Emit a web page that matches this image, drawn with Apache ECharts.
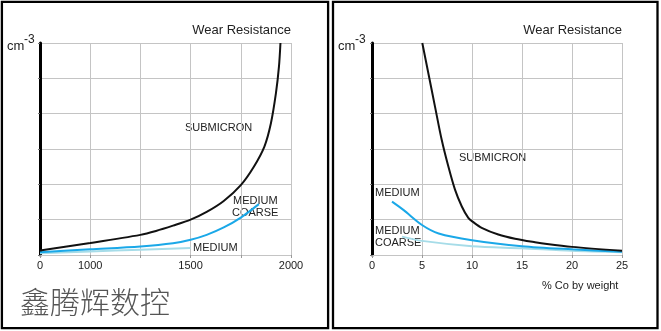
<!DOCTYPE html>
<html><head><meta charset="utf-8">
<script src="https://cdn.jsdelivr.net/npm/echarts@6/dist/echarts.min.js"></script>
<style>html,body{margin:0;padding:0;background:#fff}#c{width:661px;height:331px}</style>
</head><body><div id="c"></div>
<script>
// ---- data ----
// Left panel: x axis is broken (0 | 1000 | 1250 | 1500 | 1750 | 2000), x given in grid-step positions
const leftTickLabels = ['0', '1000', '', '1500', '', '2000'];
const leftSubmicronX = [0, 1, 2, 2.31, 2.65, 3.0, 3.32, 3.66, 4.0, 4.26, 4.47, 4.60, 4.70, 4.76, 4.79];
const leftSubmicronY = [0.13, 0.34, 0.57, 0.68, 0.83, 1.0, 1.22, 1.53, 1.98, 2.5, 3.07, 3.73, 4.58, 5.33, 6.0];
const leftCoarseX = [0, 1, 2, 2.65, 3, 3.32, 3.66, 4.0, 4.36];
const leftCoarseY = [0.08, 0.16, 0.24, 0.33, 0.43, 0.57, 0.78, 1.06, 1.44];
const leftMediumX = [0, 1, 2, 3];
const leftMediumY = [0.05, 0.1, 0.15, 0.2];
// Right panel: % Co by weight
const rightTickLabels = ['0', '5', '10', '15', '20', '25'];
const rightSubmicronX = [5.03, 5.63, 6.3, 6.97, 7.63, 8.3, 8.97, 9.63, 10.13, 10.97, 12.63, 14.3, 16.3, 17.5, 20, 25];
const rightSubmicronY = [6.0, 5.15, 4.2, 3.26, 2.51, 1.85, 1.38, 1.05, 0.93, 0.77, 0.58, 0.46, 0.36, 0.31, 0.23, 0.12];
const rightMediumX = [2, 3.17, 5, 6.67, 10, 15, 20, 25];
const rightMediumY = [1.51, 1.27, 0.85, 0.61, 0.42, 0.25, 0.16, 0.09];
const rightCoarseX = [3, 5, 10, 15, 20, 25];
const rightCoarseY = [0.52, 0.40, 0.25, 0.19, 0.12, 0.08];
const title = 'Wear Resistance';
const xName = '% Co by weight';
const watermark = '鑫腾辉数控';

const zip = (xs, ys) => xs.map((x, i) => [x, ys[i]]);
const FONT = 'Liberation Sans, Arial, sans-serif';
const GRID = '#c4c4c4';
const BLACK = '#111', BLUE = '#1aa8e8', LIGHT = '#a6dce8';

function xAxis(gi, max, interval, labels) {
  return {
    type: 'value', gridIndex: gi, min: 0, max: max, interval: interval,
    axisLine: { show: true, lineStyle: { color: GRID, width: 1 } },
    axisTick: { show: true, length: 3, lineStyle: { color: '#999' } },
    axisLabel: { color: '#222', fontSize: 11, fontFamily: FONT, margin: 5,
      formatter: v => labels[Math.round(v / interval)] ?? '' },
    splitLine: { show: true, lineStyle: { color: GRID, width: 1 } }
  };
}
function yAxis(gi) {
  return {
    type: 'value', gridIndex: gi, min: 0, max: 6, interval: 1,
    axisLine: { show: true, lineStyle: { color: '#000', width: 3 } },
    axisTick: { show: true, length: 2, lineStyle: { color: '#777' } },
    axisLabel: { show: false },
    splitLine: { show: true, lineStyle: { color: GRID, width: 1 } }
  };
}
function line(xi, data, color, w) {
  return { type: 'line', xAxisIndex: xi, yAxisIndex: xi, data: data, showSymbol: false,
    smooth: 0.3, lineStyle: { color: color, width: w }, silent: true, z: 3 };
}
function txt(x, y, s, opts) {
  return { type: 'text', x: x, y: y, style: Object.assign({ text: s, fill: '#222', font: '11px ' + FONT, verticalAlign: 'middle' }, opts || {}) };
}

const chart = echarts.init(document.getElementById('c'));
chart.setOption({
  backgroundColor: '#fff',
  animation: false,
  grid: [
    { left: 40, right: 370, top: 43, bottom: 76 },
    { left: 372, right: 39, top: 43, bottom: 76 }
  ],
  xAxis: [xAxis(0, 5, 1, leftTickLabels), xAxis(1, 25, 5, rightTickLabels)],
  yAxis: [yAxis(0), yAxis(1)],
  series: [
    line(0, zip(leftMediumX, leftMediumY), LIGHT, 2),
    line(0, zip(leftCoarseX, leftCoarseY), BLUE, 2),
    line(0, zip(leftSubmicronX, leftSubmicronY), BLACK, 2),
    line(1, zip(rightCoarseX, rightCoarseY), LIGHT, 2),
    line(1, zip(rightMediumX, rightMediumY), BLUE, 2),
    line(1, zip(rightSubmicronX, rightSubmicronY), BLACK, 2)
  ],
  graphic: [
    { type: 'rect', shape: { x: 1.9, y: 1.9, width: 326.2, height: 326.2 }, style: { fill: 'none', stroke: '#000', lineWidth: 2.3 }, z: 10 },
    { type: 'rect', shape: { x: 333, y: 1.9, width: 324.5, height: 326.2 }, style: { fill: 'none', stroke: '#000', lineWidth: 2.3 }, z: 10 },
    // left panel texts
    txt(291, 30, title, { font: '13px ' + FONT, align: 'right' }),
    txt(7, 46, 'cm', { font: '13px ' + FONT }),
    txt(24, 40, '-3', { font: '12px ' + FONT }),
    txt(185, 128, 'SUBMICRON'),
    txt(233, 201, 'MEDIUM'),
    txt(232, 213, 'COARSE'),
    txt(193, 248, 'MEDIUM'),
    txt(20, 302, watermark, { font: '300 30px "Noto Sans CJK SC", sans-serif', fill: '#555' }),
    // right panel texts
    txt(622, 30, title, { font: '13px ' + FONT, align: 'right' }),
    txt(338, 46, 'cm', { font: '13px ' + FONT }),
    txt(355, 40, '-3', { font: '12px ' + FONT }),
    txt(459, 158, 'SUBMICRON'),
    txt(375, 193, 'MEDIUM'),
    txt(375, 231, 'MEDIUM'),
    txt(375, 243, 'COARSE'),
    txt(542, 286, xName)
  ]
});
</script>
</body></html>
